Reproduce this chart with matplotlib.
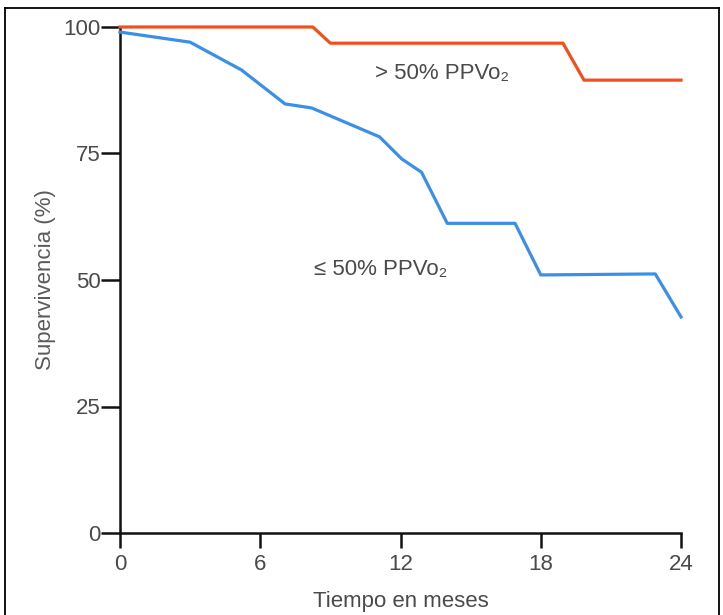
"""
Curva de supervivencia segun PPVO2 (>50% vs <=50%).
"""
import matplotlib
matplotlib.use("Agg")
import matplotlib.pyplot as plt
from matplotlib.lines import Line2D

plt.rcParams["font.family"] = ["Liberation Sans", "DejaVu Sans"]

# ── datos
meses_alto = [0, 8.25, 9.0, 18.95, 19.85, 24]
superv_alto = [100, 100, 96.8, 96.8, 89.5, 89.5]

meses_bajo = [0, 3.0, 5.2, 7.06, 8.2, 11.1, 12.06, 12.9, 14.0, 16.9, 18.0, 22.9, 24.0]
superv_bajo = [99, 97.0, 91.5, 84.8, 84.0, 78.3, 73.9, 71.3, 61.2, 61.2, 51.0, 51.2, 42.7]

xticks = [0, 6, 12, 18, 24]
yticks = [0, 25, 50, 75, 100]

ROJO = "#F0501E"
AZUL = "#3B8FE8"
GRIS = "#4a4a4a"

fig = plt.figure(figsize=(7.23, 6.15), dpi=100)
ax = fig.add_axes([120 / 723, 82 / 615, 561 / 723, 506 / 615])

ax.plot(meses_alto, superv_alto, color=ROJO, lw=2.3, clip_on=False, zorder=3)
ax.plot(meses_bajo, superv_bajo, color=AZUL, lw=2.3, clip_on=False, zorder=3)

ax.set_xlim(0, 24)
ax.set_ylim(0, 100)
ax.spines["top"].set_visible(False)
ax.spines["right"].set_visible(False)
for s in ("left", "bottom"):
    ax.spines[s].set_linewidth(1.8)
    ax.spines[s].set_color("#111111")

ax.set_xticks(xticks)
ax.set_yticks(yticks)
ax.tick_params(axis="both", direction="out", width=1.8, color="#111111",
               labelsize=16, labelcolor=GRIS)
ax.tick_params(axis="x", length=11, pad=4)
ax.tick_params(axis="y", length=14, pad=0)

ax.set_xlabel("Tiempo en meses", fontsize=16, color=GRIS, labelpad=12)
ax.set_ylabel("Supervivencia (%)", fontsize=16, color="#5a5a5a", labelpad=5)

ax.text(10.9, 90.9, "> 50% PPVo₂", fontsize=16, color=GRIS, ha="left", va="center")
ax.text(8.3, 52.0, "≤ 50% PPVo₂", fontsize=16, color=GRIS, ha="left", va="center")

# marco de la figura
kw = dict(color="black", lw=1.3, transform=fig.transFigure)
fig.add_artist(Line2D([5 / 723, 5 / 723], [0, 1 - 8 / 615], **kw))
fig.add_artist(Line2D([5 / 723, 719 / 723], [1 - 8 / 615, 1 - 8 / 615], **kw))
fig.add_artist(Line2D([719 / 723, 719 / 723], [0, 1 - 8 / 615], **kw))

fig.savefig("out.png", dpi=100)
